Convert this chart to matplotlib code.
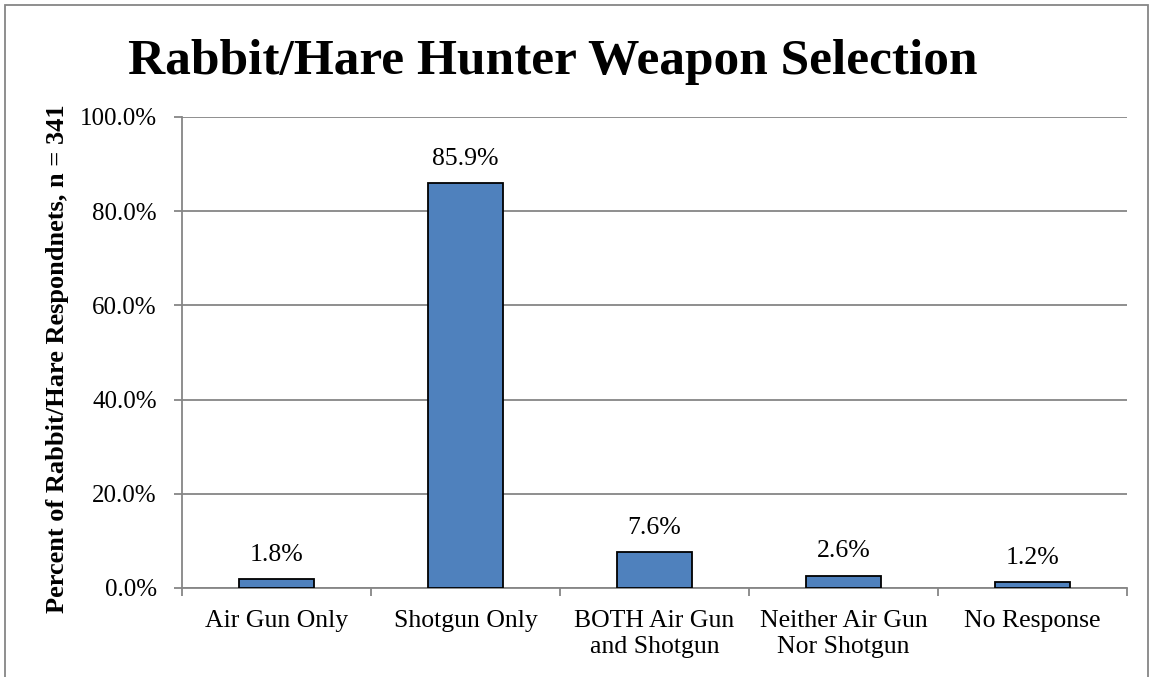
import matplotlib.pyplot as plt
from matplotlib.patches import Rectangle
from matplotlib.ticker import FuncFormatter

categories = ['Air Gun Only', 'Shotgun Only', 'BOTH Air Gun\nand Shotgun',
              'Neither Air Gun\nNor Shotgun', 'No Response']
values = [1.8, 85.9, 7.6, 2.6, 1.2]

plt.rcParams['font.family'] = ['Liberation Serif', 'DejaVu Serif']

fig = plt.figure(figsize=(11.54, 6.77), dpi=100)
ax = fig.add_axes([0.1577, 0.1315, 0.819, 0.6957])

grey = '#868686'
x = list(range(len(categories)))
ax.bar(x, values, width=0.4, color='#4F81BD', edgecolor='black', linewidth=1.3, zorder=3)
for xi, v in zip(x, values):
    ax.text(xi, v + 2.9, f'{v:.1f}%', ha='center', va='bottom', fontsize=18.5)

ax.set_xlim(-0.5, len(categories) - 0.5)
ax.set_ylim(0, 100)
ax.set_yticks(range(0, 101, 20))
ax.yaxis.set_major_formatter(FuncFormatter(lambda v, p: f'{v:.1f}%'))
ax.set_xticks(x)
ax.set_xticklabels(categories, fontsize=18.5, linespacing=1.25)
ax.set_xticks([i - 0.5 for i in range(len(categories) + 1)], minor=True)
ax.tick_params(axis='x', which='major', length=0, pad=16)
ax.tick_params(axis='x', which='minor', length=6, color=grey, width=1.3)
ax.tick_params(axis='y', length=6, color=grey, width=1.3, labelsize=18, pad=12)
ax.yaxis.grid(True, color=grey, linewidth=1.3, zorder=0)
ax.set_axisbelow(True)
for s in ['top', 'right']:
    ax.spines[s].set_visible(False)
for s in ['left', 'bottom']:
    ax.spines[s].set_color(grey)
    ax.spines[s].set_linewidth(1.3)

fig.text(0.05, 0.47, 'Percent of Rabbit/Hare Respondnets, n = 341', rotation=90,
         ha='center', va='center', fontsize=19, fontweight='bold')
fig.text(0.479, 0.909, 'Rabbit/Hare Hunter Weapon Selection', ha='center', va='center',
         fontsize=37, fontweight='bold')

fig.patches.append(Rectangle((5 / 1154, -0.05), 1143 / 1154, 1.05 - 5 / 677,
                             transform=fig.transFigure, fill=False,
                             edgecolor=grey, linewidth=1.3))

fig.savefig('out.png', dpi=100)
